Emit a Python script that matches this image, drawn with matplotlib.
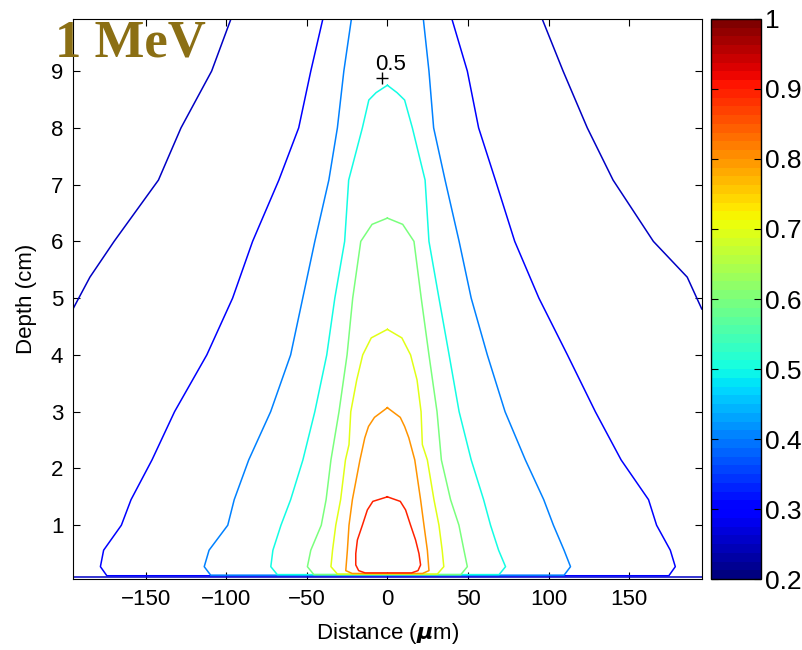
import numpy as np
import matplotlib
matplotlib.use("Agg")
import matplotlib.pyplot as plt
from matplotlib.colors import Normalize
from matplotlib.cm import ScalarMappable

# contour levels (relative dose)
levels = [0.25, 0.3, 0.4, 0.5, 0.6, 0.7, 0.8, 0.9]

# iso-dose lines: depth (cm), left / right edge (um)
# 0.25 runs out of the frame on both sides
c025_y = [9.92, 9.0, 8.0, 7.08, 6.0, 5.37, 4.81]
c025_xl = [-97, -109, -128, -142, -169.5, -184.5, -195]
c025_xr = [96, 109, 124, 140, 165, 186, 195]
c025_bottom = 0.08

c03_y = [9.92, 9.0, 8.0, 7.08, 6.0, 5.0, 4.0, 3.0, 2.15, 1.45, 1.0, 0.56, 0.27]
c03_xl = [-40, -47.5, -55, -67.3, -83.6, -96, -112, -132, -146, -159, -165, -176, -178]
c03_xr = [40, 49.6, 56.6, 67, 79, 94, 111.7, 129, 145, 162, 167, 175.5, 178.6]

c04_y = [9.92, 9.0, 8.0, 7.08, 6.0, 5.0, 4.0, 3.0, 2.15, 1.45, 1.0, 0.56, 0.27]
c04_xl = [-22.3, -27, -31, -36.3, -45, -52.5, -60, -72.4, -86, -95, -99, -110.6, -113.6]
c04_xr = [22.3, 25.8, 28.7, 35.8, 44.5, 52, 62, 73, 85.6, 97, 103, 109.6, 113.6]

c05_y = [8.75, 8.62, 8.49, 8.0, 7.08, 6.0, 5.0, 4.0, 3.0, 2.15, 1.45, 1.0, 0.56, 0.27]
c05_xl = [0, -7, -11.5, -15.5, -24, -26.5, -32.6, -37.6, -45, -52.4, -60, -66, -71, -72.3]
c05_xr = [0, 6, 10.7, 15.5, 23.4, 25.8, 32, 38.3, 44.5, 52, 59.7, 64, 69, 73.3]

c06_y = [6.41, 6.3, 6.0, 5.0, 4.0, 3.0, 2.15, 1.45, 1.0, 0.56, 0.27]
c06_xl = [0, -9.5, -16.5, -21.5, -25, -30, -35, -38, -41, -47.5, -49.6]
c06_xr = [0, 9.5, 16.5, 21, 25.8, 30.8, 33.5, 39.2, 44.4, 47.5, 49.6]

c07_y = [4.45, 4.3, 4.0, 3.56, 3.0, 2.42, 2.15, 1.45, 1.0, 0.56, 0.27]
c07_xl = [0, -10, -15.3, -19, -22.7, -23.8, -26, -29, -32, -34, -35]
c07_xr = [0, 9, 14.4, 18.4, 20.9, 21.7, 24.8, 28.9, 32, 34, 35]

c08_y = [3.07, 2.9, 2.74, 2.54, 2.15, 1.45, 1.0, 0.56, 0.2]
c08_xl = [0, -8, -11.7, -14, -17, -21.7, -23.8, -24.8, -25.8]
c08_xr = [0, 8, 10.7, 13.3, 17, 20.6, 22.7, 24.8, 25.8]

c09_y = [1.5, 1.42, 1.27, 1.0, 0.74, 0.5, 0.3, 0.2]
c09_xl = [0, -9, -12.4, -15.5, -18.6, -19.6, -19.6, -17.8]
c09_xr = [0, 8, 11.3, 14.4, 17.5, 19.6, 20.6, 19]

closed = [
    (0.3, c03_y, c03_xl, c03_xr, 0.11),
    (0.4, c04_y, c04_xl, c04_xr, 0.12),
    (0.5, c05_y, c05_xl, c05_xr, 0.13),
    (0.6, c06_y, c06_xl, c06_xr, 0.13),
    (0.7, c07_y, c07_xl, c07_xr, 0.14),
    (0.8, c08_y, c08_xl, c08_xr, 0.15),
    (0.9, c09_y, c09_xl, c09_xr, 0.16),
]

cmap = plt.get_cmap("jet", 64)      # banded colorbar like MATLAB
line_cmap = plt.get_cmap("jet")
norm = Normalize(0.2, 1.0)

plt.rcParams["font.family"] = ["Liberation Sans", "DejaVu Sans"]
plt.rcParams["mathtext.fontset"] = "dejavusans"

fig = plt.figure(figsize=(8.03, 6.5), dpi=100)
ax = fig.add_axes([0.0909, 0.109, 0.783, 0.862])
cax = fig.add_axes([0.886, 0.109, 0.0614, 0.862])

lw = 1.1
# outermost (0.25) level: two open branches + line along the surface
col = line_cmap(norm(0.25))
ax.plot(c025_xl, c025_y, color=col, lw=lw)
ax.plot(c025_xr, c025_y, color=col, lw=lw)
ax.plot([-195, 195], [c025_bottom, c025_bottom], color=col, lw=lw)

for lev, ys, xl, xr, yb in closed:
    ys = np.asarray(ys)
    xs = np.concatenate([xl, [xl[-1] + 4, xr[-1] - 4], xr[::-1]])
    yy = np.concatenate([ys, [yb, yb], ys[::-1]])
    ax.plot(xs, yy, color=line_cmap(norm(lev)), lw=lw)

# clabel for the 0.5 line
ax.plot([-3.5], [8.88], marker="+", color="black", ms=8, mew=1)
ax.text(2, 9.12, "0.5", ha="center", va="center", fontsize=16)

ax.set_xlim(-195, 195)
ax.set_ylim(0.05, 9.92)
ax.set_xticks([-150, -100, -50, 0, 50, 100, 150])
ax.set_yticks(range(1, 10))
ax.tick_params(direction="in", top=True, right=True, length=5, labelsize=16, pad=7)
ax.set_xlabel(r"Distance ($\boldsymbol{\mu}$m)", fontsize=16, labelpad=8)
ax.set_ylabel("Depth (cm)", fontsize=16, labelpad=10)

cb = fig.colorbar(ScalarMappable(norm=norm, cmap=cmap), cax=cax)
cb.set_ticks(np.arange(0.2, 1.01, 0.1))
cb.set_ticklabels(["0.2", "0.3", "0.4", "0.5", "0.6", "0.7", "0.8", "0.9", "1"])
cax.tick_params(direction="in", left=True, right=True, length=5, labelsize=19, pad=3)
cb.outline.set_linewidth(1)

fig.text(0.068, 0.913, "1 MeV", fontsize=38, fontweight="bold",
         family="Liberation Serif", color="#8B6F14", ha="left", va="baseline")

fig.savefig("out.png", dpi=100)
